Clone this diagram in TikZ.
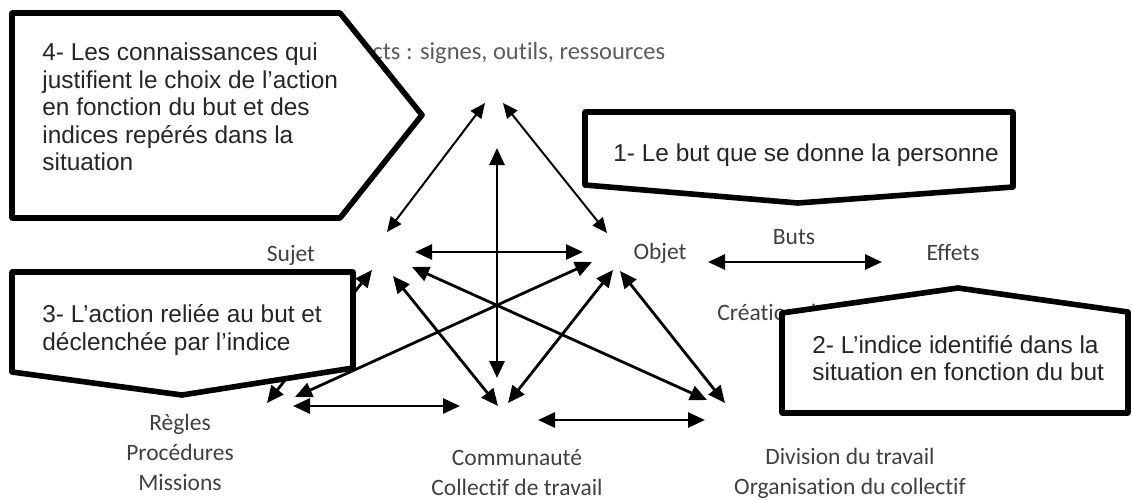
\documentclass[tikz,border=0pt]{standalone}
\usepackage{fontspec}
\setmainfont{Carlito}[Ligatures=NoCommon]
\newfontfamily\calloutfont{Liberation Sans}
\usetikzlibrary{arrows.meta,positioning,calc}
\definecolor{termgray}{HTML}{404040}
\definecolor{fadegray}{HTML}{5C5C5C}
\definecolor{calloutink}{HTML}{262626}

\begin{document}
\begin{tikzpicture}[x=0.5pt, y=-0.5pt,
    term/.style={text=termgray, font=\fontsize{11.75}{15}\selectfont, align=center, inner sep=0pt},
    link/.style={{Triangle[length=8.5pt,width=7.5pt]}-{Triangle[length=8.5pt,width=7.5pt]}, line width=1.4pt},
    thinlink/.style={{Triangle[length=7.5pt,width=6.5pt]}-{Triangle[length=7.5pt,width=6.5pt]}, line width=1pt},
    callout/.style={draw=black, fill=white, line width=2.8pt, line join=round},
    callouttext/.style={text=calloutink, font=\calloutfont\fontsize{12.2}{13.75}\selectfont, align=left, anchor=west, inner sep=0pt}]
    \useasboundingbox (0,0) rectangle (1132,499);

    % arrow ends round each pole
    \foreach \n/\x/\y in {a1/485/103, a2/503/103, a3/497/148,
        s1/387/232, s2/415/252, s3/393/276, s4/412/267, s5/372/270,
        o1/607/233, o2/583/252, o3/613/270, o4/592/262, o5/620/271, o6/708/262,
        c1/497/378, c2/498/406, c3/508/403, c4/460/406, c5/538/420,
        r1/267/403, r2/295/397, r3/293/406,
        d1/707/400, d2/725/403, d3/705/420, e1/882/262}
        \coordinate (\n) at (\x,\y);

    \draw [thinlink] (a1) -- (s1);
    \draw [thinlink] (a2) -- (o1);
    \foreach \u/\v in {a3/c1, s2/o2, s3/c2, o3/c3, s4/d1, o4/r2, o5/d2, s5/r1, r3/c4, c5/d3, o6/e1}
        \draw [link] (\u) -- (\v);

    % poles of the triangle
    \node (artefacts) [term, text=fadegray, font=\fontsize{12.25}{15}\selectfont, anchor=west] at (372,53) {cts : signes, outils, ressources};
    \node (sujet) [term] at (291,255) {Sujet};
    \node (objet) [term] at (660,253) {Objet};
    \node (buts) [term] at (794,237) {Buts};
    \node (effets) [term] at (953,253) {Effets};
    \node (creation) [term, anchor=west] at (717,312) {Création d};
    \node (regles) [term] at (180,452) {Règles\\Procédures\\Missions};
    \node (communaute) [term] at (517,473) {Communauté\\Collectif de travail};
    \node (division) [term] at (850,473) {Division du travail\\Organisation du collectif};

    % the four callouts
    \draw [callout] (12,13) -- (340,13) -- (422,115) -- (340,218) -- (12,218) -- cycle;
    \node (connaissances) [callouttext] at (42,107) {4- Les connaissances qui\\justifient le choix de l’action\\en fonction du but et des\\indices repérés dans la\\situation};

    \draw [callout] (585,112) -- (1013,112) -- (1013,187) -- (798,203) -- (585,185) -- cycle;
    \node (but) [callouttext] at (613,155) {1- Le but que se donne la personne};

    \draw [callout] (782,313) -- (958,288) -- (1128,312) -- (1128,413) -- (782,413) -- cycle;
    \node (indice) [callouttext] at (812,358) {2- L’indice identifié dans la\\situation en fonction du but};

    \draw [callout] (12,272) -- (353,272) -- (353,368) -- (182,395) -- (12,372) -- cycle;
    \node (action) [callouttext] at (42,330) {3- L’action reliée au but et\\déclenchée par l’indice};
\end{tikzpicture}
\end{document}
